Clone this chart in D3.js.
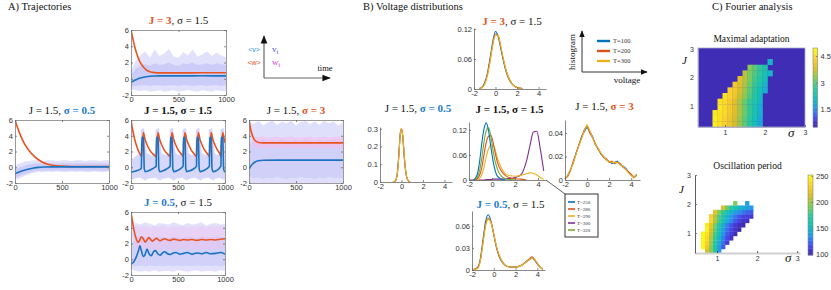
<!DOCTYPE html>
<html>
<head>
<meta charset="utf-8">
<script src="https://cdn.jsdelivr.net/npm/d3@7/dist/d3.min.js"></script>
<style>
  body { margin: 0; background: #fff; }
  text { font-family: "Liberation Sans", Arial, sans-serif; }
</style>
</head>
<body>
<svg id="fig" width="831" height="290"></svg>
<script>
// ---------- A) trajectories: mean traces, [t, value] ----------
const a1W = [[0,6],[20,4.9],[40,3.9],[60,3.1],[80,2.45],[100,1.95],[130,1.45],[160,1.1],[200,0.85],[250,0.75],[300,0.72],[500,0.72],[750,0.73],[1000,0.74]];
const a1V = [[0,-0.45],[20,-0.3],[40,-0.18],[60,-0.08],[80,0.02],[100,0.1],[130,0.18],[160,0.25],[200,0.31],[250,0.34],[300,0.35],[500,0.35],[750,0.36],[1000,0.36]];

const a2W = [[0,6],[25,5.1],[50,4.3],[75,3.6],[100,3.0],[150,2.1],[200,1.45],[250,0.95],[300,0.6],[350,0.38],[400,0.25],[500,0.14],[600,0.1],[1000,0.1]];
const a2V = [[0,-0.8],[25,-0.7],[50,-0.58],[100,-0.38],[150,-0.22],[200,-0.1],[250,-0.02],[300,0.03],[400,0.05],[1000,0.05]];

const a3W = [[0,6],[20,4.6],[40,3.5],[60,2.7],[80,2.05],[100,1.6],[113,1.35],
  [131,4.4],[151,3.5],[171,2.85],[196,2.25],[223,1.8],[250,1.5],[268,1.35],
  [286,4.4],[306,3.5],[326,2.85],[351,2.25],[378,1.8],[402,1.5],[417,1.35],
  [435,4.4],[455,3.5],[475,2.85],[500,2.25],[527,1.8],[543,1.55],[555,1.35],
  [573,4.4],[593,3.5],[613,2.85],[638,2.25],[665,1.8],[684,1.5],[697,1.35],
  [715,4.4],[735,3.5],[755,2.85],[780,2.25],[807,1.8],[822,1.55],[834,1.35],
  [852,4.4],[872,3.5],[892,2.85],[917,2.25],[944,1.75],[957,1.4],
  [975,4.4],[990,3.6],[1000,3.1]];
const a3V = [[0,-0.6],[30,-0.55],[60,-0.45],[90,-0.3],[110,-0.1],
  [116,3.8],[133,3.7],[141,-0.2],[153,-0.55],[185,-0.45],[220,-0.25],[255,0.0],[268,0.15],
  [271,3.8],[288,3.7],[296,-0.2],[308,-0.55],[340,-0.45],[375,-0.25],[405,0.0],[417,0.15],
  [420,3.8],[437,3.7],[445,-0.2],[457,-0.55],[489,-0.45],[520,-0.25],[545,0.0],[555,0.15],
  [558,3.8],[575,3.7],[583,-0.2],[595,-0.55],[627,-0.45],[660,-0.25],[687,0.0],[697,0.15],
  [700,3.8],[717,3.7],[725,-0.2],[737,-0.55],[769,-0.45],[800,-0.25],[825,0.0],[834,0.15],
  [837,3.8],[854,3.7],[862,-0.2],[874,-0.55],[906,-0.45],[935,-0.2],[950,0.05],[957,0.15],
  [960,3.8],[977,3.7],[985,-0.2],[997,-0.55],[1000,-0.55]];

const a4W = [[0,6],[20,4.7],[40,3.9],[60,3.45],[80,3.25],[100,3.15],[150,3.1],[300,3.1],[600,3.1],[1000,3.1]];
const a4V = [[0,-0.2],[20,0.15],[40,0.45],[70,0.7],[100,0.82],[150,0.88],[300,0.9],[600,0.9],[1000,0.9]];

const a5W = [[0,6],[15,4.8],[30,3.8],[45,3.0],[60,2.45],[75,2.15],[90,2.35],[110,2.85],[130,2.6],[150,2.2],[170,2.45],[190,2.75],[210,2.5],[230,2.3],[250,2.5],[270,2.65],[290,2.5],[310,2.35],[335,2.5],[360,2.6],[390,2.45],[420,2.4],[450,2.55],[480,2.5],[520,2.4],[560,2.5],[600,2.45],[650,2.5],[700,2.4],[750,2.5],[800,2.45],[850,2.5],[900,2.45],[950,2.55],[1000,2.6]];
const a5V = [[0,-0.6],[20,-0.45],[40,-0.1],[60,0.4],[80,1.1],[95,1.7],[110,1.1],[130,0.35],[150,0.6],[170,1.3],[190,0.75],[215,0.45],[240,0.95],[260,1.1],[285,0.7],[310,0.5],[335,0.8],[360,0.95],[390,0.7],[420,0.6],[450,0.8],[480,0.85],[520,0.65],[560,0.75],[600,0.85],[650,0.65],[700,0.8],[750,0.7],[800,0.85],[850,0.7],[900,0.75],[950,0.85],[1000,0.65]];

// spread of the single trajectories (v_i, w_i), envelopes on a common time grid
const bandT = [0,50,100,150,200,250,300,350,400,450,500,550,600,650,700,750,800,850,900,950,1000];
const a1OuterTop = [1.0,2.2,2.9,3.4,2.6,3.6,2.8,3.1,3.7,2.7,2.6,3.3,2.9,3.6,2.7,3.0,3.4,2.8,3.2,2.9,2.6];
const a1OuterBot = [-1.3,-1.4,-1.5,-1.4,-1.6,-1.5,-1.4,-1.6,-1.5,-1.4,-1.6,-1.5,-1.4,-1.5,-1.6,-1.4,-1.5,-1.6,-1.4,-1.5,-1.5];
const a1InnerTop = [0.5,1.2,1.6,1.8,1.6,1.9,1.7,1.8,2.0,1.7,1.6,1.9,1.8,2.0,1.7,1.8,1.9,1.7,1.9,1.8,1.7];
const a1InnerBot = [-1.0,-0.9,-0.8,-0.8,-0.9,-0.8,-0.8,-0.9,-0.8,-0.8,-0.9,-0.8,-0.8,-0.9,-0.8,-0.8,-0.9,-0.8,-0.8,-0.9,-0.8];
const a2OuterTop = [0.2,0.5,0.7,0.8,0.9,0.9,0.8,0.9,0.9,0.8,0.9,0.9,0.8,0.9,0.9,0.8,0.9,0.9,0.8,0.9,0.9];
const a2OuterBot = [-1.6,-1.4,-1.1,-0.9,-0.7,-0.6,-0.6,-0.55,-0.6,-0.55,-0.6,-0.6,-0.55,-0.6,-0.55,-0.6,-0.6,-0.55,-0.6,-0.6,-0.55];
const a2InnerTop = [-0.3,0.0,0.2,0.35,0.45,0.5,0.5,0.5,0.5,0.5,0.5,0.5,0.5,0.5,0.5,0.5,0.5,0.5,0.5,0.5,0.5];
const a2InnerBot = [-1.3,-1.1,-0.85,-0.7,-0.5,-0.4,-0.4,-0.4,-0.4,-0.4,-0.4,-0.4,-0.4,-0.4,-0.4,-0.4,-0.4,-0.4,-0.4,-0.4,-0.4];
const a4OuterTop = [5.8,5.5,5.9,5.3,5.7,5.9,5.4,5.8,5.6,5.9,5.3,5.7,5.9,5.5,5.8,5.4,5.9,5.6,5.8,5.3,5.7];
const a4OuterBot = [-2,-2,-2,-2,-2,-2,-2,-2,-2,-2,-2,-2,-2,-2,-2,-2,-2,-2,-2,-2,-2];
const a4InnerTop = [3.0,3.4,3.2,3.6,3.3,3.5,3.2,3.6,3.4,3.3,3.5,3.2,3.6,3.4,3.3,3.5,3.2,3.4,3.6,3.3,3.4];
const a4InnerBot = [-1.2,-1.4,-1.3,-1.5,-1.3,-1.4,-1.2,-1.4,-1.5,-1.3,-1.4,-1.2,-1.4,-1.3,-1.5,-1.3,-1.4,-1.2,-1.4,-1.3,-1.4];
const a4PinkTop = [6.0,3.9,3.8,3.9,3.7,3.8,3.9,3.7,3.8,3.9,3.7,3.8,3.8,3.9,3.7,3.8,3.9,3.7,3.8,3.9,3.8];
const a4PinkBot = [5.0,2.6,2.4,2.5,2.4,2.5,2.4,2.5,2.4,2.4,2.5,2.4,2.5,2.4,2.4,2.5,2.4,2.5,2.4,2.4,2.5];
const a5OuterTop = [3.0,4.6,4.4,4.7,4.5,4.3,4.6,4.5,4.4,4.7,4.5,4.3,4.6,4.4,4.5,4.7,4.3,4.5,4.6,4.4,4.5];
const a5OuterBot = [-1.2,-1.5,-1.6,-1.5,-1.6,-1.4,-1.6,-1.5,-1.5,-1.6,-1.4,-1.5,-1.6,-1.5,-1.4,-1.6,-1.5,-1.5,-1.6,-1.4,-1.5];
const a5InnerTop = [1.5,3.0,2.8,2.9,2.7,2.8,2.9,2.8,2.7,2.9,2.8,2.7,2.9,2.8,2.7,2.9,2.8,2.7,2.9,2.8,2.8];
const a5InnerBot = [-0.9,-0.9,-0.8,-0.9,-0.8,-0.9,-0.8,-0.9,-0.8,-0.9,-0.8,-0.9,-0.8,-0.9,-0.8,-0.9,-0.8,-0.9,-0.8,-0.9,-0.8];
const a5PinkTop = [5.8,4.2,4.1,4.3,4.0,4.2,4.1,4.3,4.0,4.2,4.1,4.3,4.0,4.2,4.1,4.3,4.0,4.2,4.1,4.3,4.1];
const a5PinkBot = [4.2,1.3,1.2,1.4,1.2,1.3,1.2,1.4,1.2,1.3,1.2,1.4,1.2,1.3,1.2,1.4,1.2,1.3,1.2,1.4,1.2];
// oscillating case: [t, top, bottom]
const a3Band = [[0,1.0,-1.6],[50,1.4,-1.4],[100,1.8,-1.3],[105,4.8,-1.4],[140,5.0,-1.6],[155,3.0,-1.7],[168,1.8,-1.5],[220,1.5,-1.4],
  [258,1.9,-1.3],[262,4.8,-1.4],[297,5.0,-1.6],[312,3.0,-1.7],[325,1.8,-1.5],[370,1.5,-1.4],
  [407,1.9,-1.3],[411,4.8,-1.4],[446,5.0,-1.6],[461,3.0,-1.7],[474,1.8,-1.5],[510,1.5,-1.4],
  [545,1.9,-1.3],[549,4.8,-1.4],[584,5.0,-1.6],[599,3.0,-1.7],[612,1.8,-1.5],[650,1.5,-1.4],
  [687,1.9,-1.3],[691,4.8,-1.4],[726,5.0,-1.6],[741,3.0,-1.7],[754,1.8,-1.5],[790,1.5,-1.4],
  [824,1.9,-1.3],[828,4.8,-1.4],[863,5.0,-1.6],[878,3.0,-1.7],[891,1.8,-1.5],[925,1.5,-1.4],
  [947,1.9,-1.3],[951,4.8,-1.4],[986,5.0,-1.6],[1000,3.5,-1.6]];
const aXTicks = [0, 500, 1000];
const aYTicks = [-2, 0, 2, 4, 6];

// ---------- B) voltage distributions ----------
const b1X = [-1.5,-1.25,-1,-0.75,-0.5,-0.25,0,0.25,0.5,0.75,1,1.25,1.5,1.75,2,2.5];
const b1T100 = [0.001,0.004,0.013,0.032,0.062,0.095,0.115,0.105,0.08,0.055,0.034,0.02,0.011,0.006,0.003,0.001];
const b1T200 = [0.001,0.003,0.011,0.029,0.058,0.09,0.11,0.106,0.083,0.057,0.036,0.021,0.012,0.006,0.003,0.001];
const b1T300 = [0.001,0.003,0.01,0.027,0.055,0.088,0.108,0.107,0.085,0.059,0.037,0.022,0.012,0.006,0.003,0.001];

const b2X = [-0.8,-0.6,-0.4,-0.3,-0.2,-0.1,0,0.1,0.2,0.3,0.4,0.6,0.8];
const b2T100 = [0,0.005,0.045,0.11,0.2,0.28,0.3,0.265,0.19,0.11,0.055,0.009,0];
const b2T200 = [0,0.004,0.042,0.105,0.195,0.278,0.3,0.268,0.195,0.115,0.058,0.01,0];
const b2T300 = [0,0.004,0.04,0.1,0.19,0.275,0.301,0.27,0.2,0.12,0.06,0.01,0];

const b3X = [-2,-1.6,-1.3,-1.1,-0.9,-0.7,-0.5,-0.3,-0.1,0.1,0.3,0.5,0.8,1.2,1.6,2,2.5,3,3.3,3.6,3.9,4.2,4.5];
const b3T250 = [null,0,0.012,0.04,0.085,0.122,0.137,0.118,0.08,0.045,0.02,0.008,0.002,0,null,null,null,null,null,null,null,null,null];
const b3T280 = [null,0,0.003,0.01,0.028,0.06,0.09,0.105,0.107,0.09,0.062,0.04,0.022,0.01,0.005,0.003,0.002,0,null,null,null,null,null];
const b3T290 = [null,null,0,0.004,0.012,0.03,0.055,0.075,0.083,0.084,0.07,0.05,0.03,0.014,0.01,0.009,0.011,0.015,0.017,0.016,0.012,0.006,0.002];
const b3T300 = [0,0,0,0,0,0,0.001,0.001,0.001,0.002,0.002,0.002,0.002,0.003,0.004,0.006,0.012,0.045,0.082,0.115,0.117,0.075,0.022];
const b3T320 = [null,0,0.006,0.02,0.05,0.09,0.118,0.125,0.105,0.07,0.042,0.024,0.01,0.003,0.001,0,null,null,null,null,null,null,null];
const b3Labels = ["T=250", "T=280", "T=290", "T=300", "T=320"];

const b4X = [-2,-1.75,-1.5,-1.25,-1,-0.75,-0.5,-0.25,0,0.25,0.5,0.75,1,1.25,1.5,1.75,2,2.25,2.5,2.75,3,3.25,3.5,3.75,4,4.25,4.5];
const b4T100 = [0.001,0.004,0.009,0.015,0.023,0.029,0.037,0.041,0.045,0.041,0.037,0.03,0.027,0.022,0.02,0.017,0.016,0.014,0.015,0.016,0.013,0.012,0.01,0.007,0.004,0.002,0.004];
const b4T200 = [0.001,0.003,0.008,0.016,0.022,0.03,0.036,0.043,0.046,0.04,0.036,0.031,0.026,0.023,0.019,0.018,0.015,0.016,0.014,0.015,0.014,0.011,0.009,0.007,0.005,0.002,0.005];
const b4T300 = [0.001,0.004,0.009,0.014,0.022,0.029,0.035,0.042,0.047,0.042,0.036,0.03,0.027,0.023,0.02,0.017,0.016,0.015,0.015,0.015,0.013,0.012,0.009,0.006,0.004,0.002,0.005];

const b5X = [-2,-1.5,-1.25,-1,-0.75,-0.5,-0.25,0,0.25,0.5,0.75,1,1.5,2,2.5,3,3.25,3.5,3.75,4,4.25,4.5];
const b5T100 = [0,0.003,0.014,0.04,0.066,0.075,0.066,0.048,0.03,0.018,0.011,0.007,0.004,0.004,0.006,0.011,0.014,0.016,0.013,0.008,0.004,0.001];
const b5T200 = [0,0.003,0.012,0.037,0.062,0.07,0.064,0.048,0.031,0.019,0.012,0.007,0.004,0.004,0.006,0.012,0.015,0.018,0.014,0.009,0.004,0.001];
const b5T300 = [0,0.002,0.011,0.035,0.06,0.069,0.064,0.049,0.032,0.02,0.012,0.007,0.004,0.004,0.006,0.011,0.014,0.016,0.014,0.009,0.004,0.001];
const bSchemeLabels = ["T=100", "T=200", "T=300"];
const bXTicks = [-2, 0, 2, 4];

// ---------- C) Fourier analysis heat maps: rows of cells ----------
const h1J = [0.35,0.55,0.75,0.95,1.15,1.35,1.55,1.75,1.95,2.15,2.35,2.55];
const h1Start = [0.75,0.75,0.75,0.875,0.875,1.0,1.125,1.25,1.375,1.5,1.625,2.125];
const h1Vals = [
  [4.8,4.6,4.4,4.1,3.8,3.4,3.0,2.6,2.2,1.8],
  [4.8,4.6,4.4,4.1,3.8,3.4,3.0,2.6,2.2,1.8],
  [4.7,4.6,4.5,4.2,3.9,3.5,3.1,2.7,2.3,1.9],
  [4.7,4.5,4.2,3.9,3.5,3.1,2.7,2.3,1.9],
  [4.6,4.5,4.2,3.9,3.5,3.1,2.7,2.4,2.0],
  [4.6,4.4,4.1,3.7,3.3,2.9,2.5,2.1],
  [4.4,4.2,3.8,3.4,3.0,2.6,2.2,1.9],
  [4.2,3.9,3.5,3.1,2.7,2.4,2.0],
  [4.0,3.6,3.2,2.8,2.5,2.2],
  [3.6,3.2,2.9,2.6,2.3,2.0],
  [3.3,3.0,2.7,2.4],
  [2.0]];
const h1Floor = 0.6;
const h2J = [0.375,0.525,0.675,0.825,0.975,1.125,1.275,1.425,1.575,1.725,1.875,2.025];
const h2Start = [0.75,0.65,0.65,0.65,0.65,0.75,0.75,0.85,0.85,0.95,1.15,1.45];
const h2Vals = [
  [215,195,165,135],
  [250,225,195,165,140,120],
  [250,230,200,170,145,125,110],
  [250,235,205,175,150,130,115,105],
  [250,240,210,180,155,135,120,110,102],
  [248,215,185,160,140,125,115,105,100],
  [245,220,190,165,145,130,118,108,102,100],
  [235,205,180,160,145,132,120,112,106,104],
  [230,205,182,163,148,136,126,118,112,110,108],
  [220,195,175,160,148,140,133,127,122,120],
  [215,188,170,158,150,145,140,136],
  [192,null,null,140]];
const h1Ticks = [1.5, 3, 4.5];
const h2Ticks = [100, 150, 200, 250];

// ---------- drawing ----------
const svg = d3.select("#fig");
const defs = svg.append("defs");
const serif = '"Liberation Serif", "Times New Roman", serif';
const sans = '"Liberation Sans", Arial, sans-serif';
const wColor = "#e8531f", vColor = "#1a72c2";
const tOrange = "#e0561c", tBlue = "#1c7cd0";
const lav = "#c9c9fa", lavDark = "#b4b4f4", pink = "#f2c0ee";
const cBlue = "#0072bd", cRed = "#d95319", cYel = "#edb120", cPurp = "#7e2f8e", cGreen = "#77ac30";
// parula-like colour map
const parula = d3.scaleLinear()
  .domain([0, 0.11, 0.24, 0.37, 0.49, 0.62, 0.75, 0.87, 1])
  .range(["#3e26a8", "#4747eb", "#2796eb", "#12bfb9", "#2ec79c", "#80cc59", "#dcbd29", "#fccf30", "#f9fb14"])
  .interpolate(d3.interpolateRgb);
const plain = d => String(d);

function styleAxis(g, size) {
  g.selectAll("path, line").attr("stroke", "#6a6a6a").attr("stroke-width", 0.8);
  g.selectAll("text").attr("fill", "#333").style("font-size", size + "px").style("font-family", sans);
}

function title(x, y, parts, size) {
  let t = svg.append("text").attr("x", x).attr("y", y).attr("text-anchor", "middle")
    .style("font-family", serif).style("font-size", size + "px");
  parts.forEach(p => {
    t.append("tspan").text(p.t)
      .attr("font-weight", p.b ? "bold" : null)
      .attr("fill", p.c || "#111");
  });
}

const zipBand = (top, bot) => bandT.map((t, i) => [t, top[i], bot[i]]);

function trajPlot(cfg) {
  let x = d3.scaleLinear().domain([0, 1000]).range([cfg.left, cfg.right]);
  let y = d3.scaleLinear().domain([-2, 6]).range([cfg.bottom, cfg.top]);
  let g = svg.append("g");
  defs.append("clipPath").attr("id", "clip" + cfg.id)
    .append("rect").attr("x", cfg.left).attr("y", cfg.top)
    .attr("width", cfg.right - cfg.left).attr("height", cfg.bottom - cfg.top);
  let inner = g.append("g").attr("clip-path", `url(#clip${cfg.id})`);
  let area = d3.area().x(d => x(d[0])).y0(d => y(d[2])).y1(d => y(d[1]));
  cfg.bands.forEach(b => {
    inner.append("path").datum(b.data).attr("d", area)
      .attr("fill", b.color).attr("fill-opacity", b.op);
  });
  let line = d3.line().x(d => x(d[0])).y(d => y(d[1])).curve(d3.curveMonotoneX);
  inner.append("path").datum(cfg.w).attr("d", line)
    .attr("fill", "none").attr("stroke", wColor).attr("stroke-width", 1.6);
  inner.append("path").datum(cfg.v).attr("d", line)
    .attr("fill", "none").attr("stroke", vColor).attr("stroke-width", 1.6);

  let ax = g.append("g").attr("transform", `translate(0,${cfg.bottom})`)
    .call(d3.axisBottom(x).tickValues(aXTicks).tickFormat(plain).tickSizeInner(-2).tickSizeOuter(0).tickPadding(2));
  let ay = g.append("g").attr("transform", `translate(${cfg.left},0)`)
    .call(d3.axisLeft(y).tickValues(aYTicks).tickFormat(plain).tickSizeInner(-2).tickSizeOuter(0).tickPadding(2));
  let ax2 = g.append("g").attr("transform", `translate(0,${cfg.top})`)
    .call(d3.axisTop(x).tickValues(aXTicks).tickSizeInner(-2).tickSizeOuter(0).tickFormat(""));
  let ay2 = g.append("g").attr("transform", `translate(${cfg.right},0)`)
    .call(d3.axisRight(y).tickValues(aYTicks).tickSizeInner(-2).tickSizeOuter(0).tickFormat(""));
  [ax, ay, ax2, ay2].forEach(a => styleAxis(a, 7.5));
  g.selectAll(".domain").attr("stroke", "#808080");
  title((cfg.left + cfg.right) / 2, cfg.titleY, cfg.title, 11);
}

function distPlot(cfg) {
  let x = d3.scaleLinear().domain([-2, cfg.xMax]).range([cfg.left, cfg.right]);
  let y = d3.scaleLinear().domain([0, cfg.yMax]).range([cfg.bottom, cfg.top]);
  let g = svg.append("g");
  let line = d3.line().defined(d => d[1] != null)
    .x(d => x(d[0])).y(d => y(d[1])).curve(cfg.smooth ? d3.curveMonotoneX : d3.curveLinear);
  cfg.series.forEach(s => {
    g.append("path").datum(cfg.xs.map((v, i) => [v, s.vals[i]])).attr("d", line)
      .attr("fill", "none").attr("stroke", s.color).attr("stroke-width", 1.1);
  });
  let ax = g.append("g").attr("transform", `translate(0,${cfg.bottom})`)
    .call(d3.axisBottom(x).tickValues(bXTicks).tickFormat(plain).tickSizeInner(-2).tickSizeOuter(0).tickPadding(2));
  let ay = g.append("g").attr("transform", `translate(${cfg.left},0)`)
    .call(d3.axisLeft(y).tickValues(cfg.yTicks).tickFormat(plain).tickSizeInner(-2).tickSizeOuter(0).tickPadding(2));
  styleAxis(ax, 7.5);
  styleAxis(ay, 7.5);
  title((cfg.left + cfg.right) / 2 + 2, cfg.titleY, cfg.title, 11);
  return { x, y };
}

function heatmap(cfg) {
  let x = d3.scaleLinear().domain(cfg.xDom).range([cfg.left, cfg.right]);
  let y = d3.scaleLinear().domain(cfg.yDom).range([cfg.bottom, cfg.top]);
  let color = v => parula((v - cfg.cDom[0]) / (cfg.cDom[1] - cfg.cDom[0]));
  let g = svg.append("g");
  if (cfg.floor != null) {
    g.append("rect").attr("x", cfg.left).attr("y", cfg.top)
      .attr("width", cfg.right - cfg.left).attr("height", cfg.bottom - cfg.top)
      .attr("fill", color(cfg.floor));
  }
  let cells = [];
  cfg.rows.forEach((j, r) => {
    cfg.vals[r].forEach((v, k) => {
      if (v != null) cells.push({ s: cfg.start[r] + k * cfg.ds, j: j, v: v });
    });
  });
  g.selectAll("rect.cell").data(cells).enter().append("rect").attr("class", "cell")
    .attr("x", d => x(d.s - cfg.ds / 2)).attr("y", d => y(d.j + cfg.dj / 2))
    .attr("width", d => x(d.s + cfg.ds / 2) - x(d.s - cfg.ds / 2) + 0.3)
    .attr("height", d => y(d.j - cfg.dj / 2) - y(d.j + cfg.dj / 2) + 0.3)
    .attr("fill", d => color(d.v));

  let ax = g.append("g").attr("transform", `translate(0,${cfg.bottom})`)
    .call(d3.axisBottom(x).tickValues([1, 2, 3]).tickFormat(plain).tickSizeInner(-2).tickSizeOuter(0).tickPadding(3));
  let ay = g.append("g").attr("transform", `translate(${cfg.left},0)`)
    .call(d3.axisLeft(y).tickValues([1, 2, 3]).tickFormat(plain).tickSizeInner(-2).tickSizeOuter(0).tickPadding(4));
  styleAxis(ax, 7);
  styleAxis(ay, 7);
  if (cfg.box) {
    g.append("rect").attr("x", cfg.left).attr("y", cfg.top)
      .attr("width", cfg.right - cfg.left).attr("height", cfg.bottom - cfg.top)
      .attr("fill", "none").attr("stroke", "#a9a9c8").attr("stroke-width", 0.8);
    ax.select(".domain").attr("stroke", "#a9a9c8");
    ay.select(".domain").attr("stroke", "#a9a9c8");
  } else {
    ax.select(".domain").attr("stroke", "#d0d0d0").attr("stroke-width", 2);
    ay.select(".domain").attr("stroke", "#333");
  }
  ax.selectAll(".tick line").attr("stroke", "#333");

  // colour bar
  let cy = d3.scaleLinear().domain(cfg.cDom).range([cfg.cbBottom, cfg.top]);
  let steps = d3.range(0, 60);
  g.selectAll("rect.cb").data(steps).enter().append("rect").attr("class", "cb")
    .attr("x", cfg.cbLeft).attr("width", cfg.cbWidth)
    .attr("y", i => cy(cfg.cDom[0] + (i + 1) * (cfg.cDom[1] - cfg.cDom[0]) / 60))
    .attr("height", (cfg.cbBottom - cfg.top) / 60 + 0.4)
    .attr("fill", i => color(cfg.cDom[0] + (i + 0.5) * (cfg.cDom[1] - cfg.cDom[0]) / 60));
  g.append("rect").attr("x", cfg.cbLeft).attr("y", cfg.top).attr("width", cfg.cbWidth)
    .attr("height", cfg.cbBottom - cfg.top).attr("fill", "none").attr("stroke", "#888").attr("stroke-width", 0.6);
  let ac = g.append("g").attr("transform", `translate(${cfg.cbLeft + cfg.cbWidth},0)`)
    .call(d3.axisRight(cy).tickValues(cfg.cTicks).tickFormat(plain).tickSizeInner(-1.5).tickSizeOuter(0).tickPadding(3));
  styleAxis(ac, 7.5);
  ac.select(".domain").remove();

  svg.append("text").attr("x", cfg.jLabel[0]).attr("y", cfg.jLabel[1]).text("J")
    .style("font-family", serif).style("font-style", "italic").style("font-size", "11px").attr("fill", "#111");
  svg.append("text").attr("x", cfg.sLabel[0]).attr("y", cfg.sLabel[1]).text("σ")
    .style("font-family", serif).style("font-style", "italic").style("font-size", "13px").attr("fill", "#111");
  svg.append("text").attr("x", (cfg.left + cfg.right) / 2).attr("y", cfg.top - 6)
    .attr("text-anchor", "middle").text(cfg.title)
    .style("font-family", serif).style("font-size", "9.5px").attr("fill", "#111");
}

// panel headings
[["A) Trajectories", 8], ["B) Voltage distributions", 363], ["C) Fourier analysis", 712]].forEach(d => {
  svg.append("text").attr("x", d[1]).attr("y", 10).text(d[0])
    .style("font-family", serif).style("font-size", "10.5px").attr("fill", "#111");
});

// ---- A ----
trajPlot({ id: 1, left: 131, right: 226, top: 30, bottom: 95, titleY: 24,
  title: [{ t: "J = 3", b: true, c: tOrange }, { t: ", σ = 1.5" }],
  w: a1W, v: a1V,
  bands: [{ data: zipBand(a1OuterTop, a1OuterBot), color: lav, op: 0.55 },
          { data: zipBand(a1InnerTop, a1InnerBot), color: lavDark, op: 0.45 }] });
trajPlot({ id: 2, left: 15, right: 109, top: 120, bottom: 183, titleY: 114,
  title: [{ t: "J = 1.5, " }, { t: "σ = 0.5", b: true, c: tBlue }],
  w: a2W, v: a2V,
  bands: [{ data: zipBand(a2OuterTop, a2OuterBot), color: lav, op: 0.55 },
          { data: zipBand(a2InnerTop, a2InnerBot), color: lavDark, op: 0.45 }] });
trajPlot({ id: 3, left: 131, right: 225, top: 120, bottom: 183, titleY: 114,
  title: [{ t: "J = 1.5, σ = 1.5", b: true }],
  w: a3W, v: a3V,
  bands: [{ data: a3Band, color: lav, op: 0.75 }] });
trajPlot({ id: 4, left: 249, right: 343, top: 120, bottom: 183, titleY: 114,
  title: [{ t: "J = 1.5, " }, { t: "σ = 3", b: true, c: tOrange }],
  w: a4W, v: a4V,
  bands: [{ data: zipBand(a4OuterTop, a4OuterBot), color: lav, op: 0.6 },
          { data: zipBand(a4InnerTop, a4InnerBot), color: lavDark, op: 0.35 },
          { data: zipBand(a4PinkTop, a4PinkBot), color: pink, op: 0.7 }] });
trajPlot({ id: 5, left: 131, right: 225, top: 212, bottom: 275, titleY: 206,
  title: [{ t: "J = 0.5", b: true, c: tBlue }, { t: ", σ = 1.5" }],
  w: a5W, v: a5V,
  bands: [{ data: zipBand(a5OuterTop, a5OuterBot), color: lav, op: 0.55 },
          { data: zipBand(a5InnerTop, a5InnerBot), color: lavDark, op: 0.35 },
          { data: zipBand(a5PinkTop, a5PinkBot), color: pink, op: 0.45 }] });

// arrow heads
defs.append("marker").attr("id", "arr").attr("viewBox", "0 0 10 10").attr("refX", 9).attr("refY", 5)
  .attr("markerWidth", 7).attr("markerHeight", 7).attr("orient", "auto")
  .append("path").attr("d", "M0,1 L10,5 L0,9 Z").attr("fill", "#111");

// A sketch (mean vs single trajectories)
svg.append("line").attr("x1", 264).attr("y1", 78).attr("x2", 264).attr("y2", 36)
  .attr("stroke", "#666").attr("stroke-width", 1.2).attr("marker-end", "url(#arr)");
svg.append("line").attr("x1", 264).attr("y1", 78).attr("x2", 330).attr("y2", 78)
  .attr("stroke", "#666").attr("stroke-width", 1.2).attr("marker-end", "url(#arr)");
svg.append("text").attr("x", 325).attr("y", 71).attr("text-anchor", "middle").text("time")
  .style("font-family", serif).style("font-size", "8.5px").attr("fill", "#111");
[["<v>", 52, "#1f8fe0"], ["<w>", 65, tOrange]].forEach(d => {
  svg.append("text").attr("x", 254).attr("y", d[1]).attr("text-anchor", "middle").text(d[0])
    .style("font-size", "7px").attr("fill", d[2]);
});
[["v", 52, "#4f4fe8"], ["w", 65, "#d43cd4"]].forEach(d => {
  let t = svg.append("text").attr("x", 272).attr("y", d[1]).style("font-family", serif)
    .style("font-size", "9px").attr("fill", d[2]);
  t.append("tspan").text(d[0]);
  t.append("tspan").text("i").attr("dy", 2).style("font-size", "6.5px");
});

// ---- B ----
distPlot({ left: 474, right: 546, bottom: 89, top: 28, xMax: 4.7, yMax: 0.122, yTicks: [0, 0.06, 0.12],
  titleY: 25, smooth: true, xs: b1X,
  title: [{ t: "J = 3", b: true, c: tOrange }, { t: ", σ = 1.5" }],
  series: [{ vals: b1T100, color: cBlue }, { vals: b1T200, color: cRed }, { vals: b1T300, color: cYel }] });
distPlot({ left: 380, right: 452, bottom: 182, top: 127, xMax: 4.7, yMax: 0.31, yTicks: [0, 0.1, 0.2, 0.3],
  titleY: 112, smooth: true, xs: b2X,
  title: [{ t: "J = 1.5, " }, { t: "σ = 0.5", b: true, c: tBlue }],
  series: [{ vals: b2T100, color: cBlue }, { vals: b2T200, color: cRed }, { vals: b2T300, color: cYel }] });
let b3 = distPlot({ left: 469, right: 546, bottom: 180, top: 122, xMax: 4.7, yMax: 0.139, yTicks: [0, 0.06, 0.12],
  titleY: 113, smooth: true, xs: b3X,
  title: [{ t: "J = 1.5, σ = 1.5", b: true }],
  series: [{ vals: b3T300, color: cPurp }, { vals: b3T290, color: cYel }, { vals: b3T280, color: cRed },
           { vals: b3T320, color: cGreen }, { vals: b3T250, color: cBlue }] });
distPlot({ left: 565, right: 640, bottom: 180, top: 120, xMax: 4.8, yMax: 0.051, yTicks: [0, 0.02, 0.04],
  titleY: 110, smooth: false, xs: b4X,
  title: [{ t: "J = 1.5, " }, { t: "σ = 3", b: true, c: tOrange }],
  series: [{ vals: b4T100, color: cBlue }, { vals: b4T200, color: cRed }, { vals: b4T300, color: cYel }] });
distPlot({ left: 472, right: 545, bottom: 270, top: 211, xMax: 4.7, yMax: 0.08, yTicks: [0, 0.03, 0.06],
  titleY: 208, smooth: true, xs: b5X,
  title: [{ t: "J = 0.5", b: true, c: tBlue }, { t: ", σ = 1.5" }],
  series: [{ vals: b5T100, color: cBlue }, { vals: b5T200, color: cRed }, { vals: b5T300, color: cYel }] });

// legend of the oscillating case, joined to its axis
svg.append("line").attr("x1", b3.x(4.7)).attr("y1", b3.y(0)).attr("x2", 565).attr("y2", 194)
  .attr("stroke", "#333").attr("stroke-width", 0.8);
svg.append("rect").attr("x", 565).attr("y", 194).attr("width", 33).attr("height", 43)
  .attr("fill", "#fff").attr("stroke", "#333").attr("stroke-width", 1);
let legY = d3.scalePoint().domain(b3Labels).range([202, 230]);
let legCol = [cBlue, cRed, cYel, cPurp, cGreen];
b3Labels.forEach((lab, i) => {
  svg.append("line").attr("x1", 568).attr("x2", 575).attr("y1", legY(lab)).attr("y2", legY(lab))
    .attr("stroke", legCol[i]).attr("stroke-width", 1.6);
  svg.append("text").attr("x", 577).attr("y", legY(lab)).attr("dy", "0.35em").text(lab)
    .style("font-family", serif).style("font-size", "5px").attr("fill", "#333");
});

// B sketch
svg.append("line").attr("x1", 582).attr("y1", 72).attr("x2", 582).attr("y2", 31)
  .attr("stroke", "#333").attr("stroke-width", 1).attr("marker-end", "url(#arr)");
svg.append("line").attr("x1", 582).attr("y1", 72).attr("x2", 647).attr("y2", 72)
  .attr("stroke", "#333").attr("stroke-width", 1).attr("marker-end", "url(#arr)");
svg.append("text").attr("transform", "translate(575,52) rotate(-90)").attr("text-anchor", "middle")
  .text("histogram").style("font-family", serif).style("font-size", "9px").attr("fill", "#111");
svg.append("text").attr("x", 627).attr("y", 83).attr("text-anchor", "middle").text("voltage")
  .style("font-family", serif).style("font-size", "9px").attr("fill", "#111");
let schY = d3.scalePoint().domain(bSchemeLabels).range([41, 61]);
[cBlue, cRed, cYel].forEach((c, i) => {
  let lab = bSchemeLabels[i];
  svg.append("line").attr("x1", 597).attr("x2", 610).attr("y1", schY(lab)).attr("y2", schY(lab))
    .attr("stroke", c).attr("stroke-width", 2.4);
  svg.append("text").attr("x", 613).attr("y", schY(lab)).attr("dy", "0.35em").text(lab)
    .style("font-family", serif).style("font-size", "6.5px").attr("fill", "#333");
});

// ---- C ----
heatmap({ left: 698, right: 805, top: 48, bottom: 127, xDom: [0.325, 3.0], yDom: [0.25, 3.04],
  rows: h1J, start: h1Start, vals: h1Vals, ds: 0.125, dj: 0.2, floor: h1Floor, box: true,
  cDom: [0.5, 4.95], cTicks: h1Ticks, cbLeft: 813, cbWidth: 4.5, cbBottom: 127,
  title: "Maximal adaptation", jLabel: [682, 64], sLabel: [788, 137] });
heatmap({ left: 695, right: 800, top: 175, bottom: 253, xDom: [0.45, 3.07], yDom: [0.31, 3.0],
  rows: h2J, start: h2Start, vals: h2Vals, ds: 0.1, dj: 0.15, floor: null, box: false,
  cDom: [98, 252], cTicks: h2Ticks, cbLeft: 808, cbWidth: 5, cbBottom: 255,
  title: "Oscillation period", jLabel: [679, 193], sLabel: [785, 262] });
</script>
</body>
</html>
